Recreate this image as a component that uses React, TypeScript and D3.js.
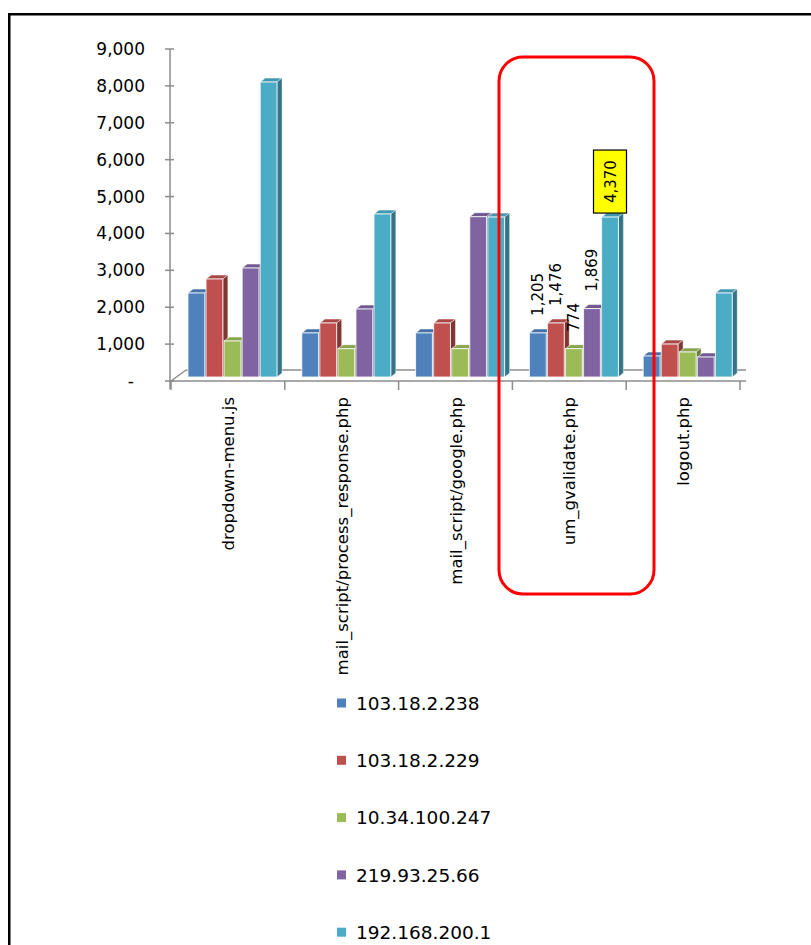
import React from "react";
import * as d3 from "d3";

const categories = [
  "dropdown-menu.js",
  "mail_script/process_response.php",
  "mail_script/google.php",
  "um_gvalidate.php",
  "logout.php",
];
const seriesNames = ["103.18.2.238", "103.18.2.229", "10.34.100.247", "219.93.25.66", "192.168.200.1"];
const seriesColors = ["#4F81BD", "#C0504D", "#9BBB59", "#8064A2", "#4BACC6"];
const s1 = [2295, 1205, 1205, 1205, 574];
const s2 = [2678, 1476, 1476, 1476, 900];
const s3 = [984, 774, 774, 774, 683];
const s4 = [2978, 1858, 4380, 1869, 546];
const s5 = [8060, 4454, 4370, 4370, 2295];
const seriesValues = [s1, s2, s3, s4, s5];
const yTicks = [0, 1000, 2000, 3000, 4000, 5000, 6000, 7000, 8000, 9000];
const labeledCategory = "um_gvalidate.php";
const highlightedSeries = 4;

const FONT = "DejaVu Sans, Verdana, sans-serif";

export default function App() {
  const x0 = d3.scaleBand<string>().domain(categories).range([171, 740]).paddingInner(0).paddingOuter(0);
  const x1 = d3.scaleBand<string>().domain(seriesNames).range([17, 106]).paddingInner(0.07);
  const yAxis = d3.scaleLinear().domain([0, 9000]).range([381, 49]);
  const yBar = d3.scaleLinear().domain([0, 9000]).range([377, 47.6]);
  const fmt = d3.format(",");
  const dx = 5;
  const dy = 4;
  const base = yBar(0);

  const bars: React.ReactNode[] = [];
  const labels: React.ReactNode[] = [];
  categories.forEach((cat, ci) => {
    seriesNames.forEach((sn, si) => {
      const v = seriesValues[si][ci];
      const x = (x0(cat) as number) + (x1(sn) as number);
      const w = x1.bandwidth();
      const y = yBar(v);
      const col = d3.color(seriesColors[si])!;
      const topCol = col.darker(0.35).formatHex();
      const sideCol = col.darker(1.1).formatHex();
      bars.push(
        <g key={`b-${ci}-${si}`}>
          <polygon
            points={`${x},${y} ${x + dx},${y - dy} ${x + w + dx},${y - dy} ${x + w},${y}`}
            fill={topCol}
            stroke="#ffffff"
            strokeOpacity={0.7}
            strokeWidth={0.8}
          />
          <polygon
            points={`${x + w},${y} ${x + w + dx},${y - dy} ${x + w + dx},${base - dy} ${x + w},${base}`}
            fill={sideCol}
            stroke="#ffffff"
            strokeOpacity={0.5}
            strokeWidth={0.8}
          />
          <rect x={x} y={y} width={w} height={base - y} fill={seriesColors[si]} stroke="#ffffff" strokeOpacity={0.8} strokeWidth={1} />
        </g>
      );
      if (cat === labeledCategory) {
        const cx = x + w / 2;
        const txt = fmt(v);
        if (si === highlightedSeries) {
          const bw = 33;
          const bh = 63;
          const by = y - 4 - bh;
          labels.push(
            <g key={`l-${si}`}>
              <rect x={cx - bw / 2} y={by} width={bw} height={bh} fill="#FFFF00" stroke="#000" strokeWidth={1.2} />
              <text
                transform={`translate(${cx + 5.5},${by + bh / 2}) rotate(-90)`}
                textAnchor="middle"
                fontFamily={FONT}
                fontSize={15}
                fill="#000"
              >
                {txt}
              </text>
            </g>
          );
        } else {
          labels.push(
            <text
              key={`l-${si}`}
              transform={`translate(${cx + 5.5},${y - 17}) rotate(-90)`}
              textAnchor="start"
              fontFamily={FONT}
              fontSize={15}
              fill="#000"
            >
              {txt}
            </text>
          );
        }
      }
    });
  });

  const bandEdges = [...categories.map((c) => x0(c) as number), 740];

  return (
    <svg width={811} height={945} style={{ position: "absolute", left: 0, top: 0, background: "#fff" }}>
      <rect x={0} y={0} width={811} height={945} fill="#fff" />
      {/* outer border */}
      <rect x={9.25} y={14.25} width={900} height={1000} fill="none" stroke="#000" strokeWidth={2.5} />

      {/* floor */}
      <line x1={171} y1={381} x2={186} y2={370} stroke="#8c8c8c" strokeWidth={1.5} />
      <line x1={186} y1={370} x2={746} y2={370} stroke="#8c8c8c" strokeWidth={1.5} />
      <line x1={170} y1={381} x2={746} y2={381} stroke="#8c8c8c" strokeWidth={1.5} />
      {bandEdges.map((e, i) => (
        <line key={`xt-${i}`} x1={e} y1={381} x2={e} y2={390} stroke="#8c8c8c" strokeWidth={1.5} />
      ))}

      {/* y axis */}
      <line x1={170} y1={49} x2={170} y2={389} stroke="#8c8c8c" strokeWidth={1.5} />
      {yTicks.map((t) => (
        <g key={`yt-${t}`}>
          <line x1={165} y1={yAxis(t)} x2={174} y2={yAxis(t)} stroke="#8c8c8c" strokeWidth={1.5} />
          <text
            x={t === 0 ? 134 : 145}
            y={yAxis(t)}
            dy="0.35em"
            textAnchor="end"
            fontFamily={FONT}
            fontSize={17}
            fill="#000"
          >
            {t === 0 ? "-" : fmt(t)}
          </text>
        </g>
      ))}

      {bars}
      {labels}

      {/* category labels */}
      {categories.map((c) => {
        const cx = (x0(c) as number) + x0.bandwidth() / 2;
        return (
          <text
            key={`cl-${c}`}
            transform={`translate(${cx + 6},397) rotate(-90)`}
            textAnchor="end"
            fontFamily={FONT}
            fontSize={16.5}
            fill="#000"
          >
            {c}
          </text>
        );
      })}

      {/* highlight box */}
      <rect x={499} y={57} width={155} height={537} rx={24} ry={24} fill="none" stroke="#FF0000" strokeWidth={3} />

      {/* legend */}
      {seriesNames.map((s, i) => {
        const cy = 703 + i * 57.3;
        return (
          <g key={`lg-${s}`}>
            <rect x={337} y={cy - 4.5} width={9} height={9} fill={seriesColors[i]} />
            <text x={356} y={cy} dy="0.36em" fontFamily={FONT} fontSize={18.5} fill="#000">
              {s}
            </text>
          </g>
        );
      })}
    </svg>
  );
}
